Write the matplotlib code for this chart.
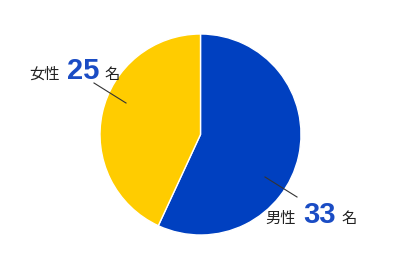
import matplotlib
matplotlib.use("Agg")
import matplotlib.pyplot as plt

labels = ["男性", "女性"]
values = [33, 25]
unit = "名"
colors = ["#0040c0", "#ffcc00"]
num_color = "#1a4cc4"

W, H = 400, 267
fig = plt.figure(figsize=(4, 2.67), dpi=100)
ax = fig.add_axes([0, 0, 1, 1])

cx, cy, r = 200.5, H - 134.5, 100.5
ax.pie(values, colors=colors, startangle=90, counterclock=False,
       center=(cx, cy), radius=r, frame=True,
       wedgeprops=dict(edgecolor="white", linewidth=1.0))
ax.set_xlim(0, W)
ax.set_ylim(0, H)
ax.set_aspect("equal")
ax.axis("off")

cjk = ["Noto Sans CJK JP", "DejaVu Sans"]
num_font = ["Liberation Sans", "DejaVu Sans"]

# label layout: (label x, number x, unit x, baseline y, leader start, leader end)
layout = {
    "男性": dict(lx=265, nx=303, ux=341, by=223, p0=(265, 177), p1=(297, 197)),
    "女性": dict(lx=29, nx=66.5, ux=104, by=79, p0=(126, 103), p1=(94, 83)),
}

for lab, val in zip(labels, values):
    L = layout[lab]
    ax.text(L["lx"], H - L["by"], lab, family=cjk, fontsize=11,
            color="#222222", va="baseline", ha="left")
    ax.text(L["nx"], H - L["by"], str(val), family=num_font, fontsize=21,
            fontweight="bold", color=num_color, va="baseline", ha="left")
    ax.text(L["ux"], H - L["by"], unit, family=cjk, fontsize=11,
            color="#222222", va="baseline", ha="left")
    ax.plot([L["p0"][0], L["p1"][0]], [H - L["p0"][1], H - L["p1"][1]],
            color="#333333", linewidth=0.8)

fig.savefig("out.png", dpi=100)
